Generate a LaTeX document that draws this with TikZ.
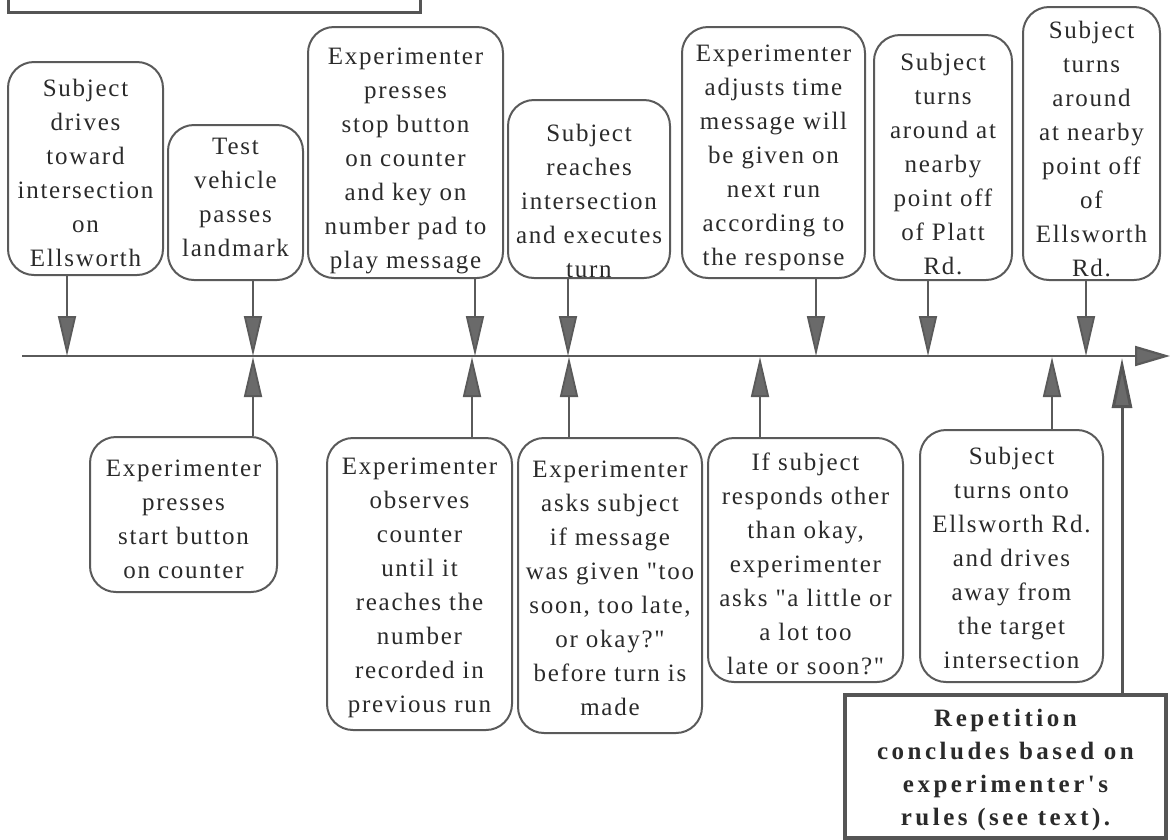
\documentclass[tikz,border=0pt]{standalone}
\usepackage{fontspec}
\setmainfont{Liberation Serif}[LetterSpace=7, Ligatures=TeXOff]
\usetikzlibrary{arrows.meta,calc}
\definecolor{bord}{HTML}{5A5A5A}
\definecolor{ink}{HTML}{2A2A2A}
\definecolor{headfill}{HTML}{6A6A6A}
\definecolor{rectbord}{HTML}{555555}
\tikzset{
  rbox/.style={draw=bord, line width=2pt, rounded corners=26pt, inner sep=0pt},
  txt/.style={font=\fontsize{25}{34}\selectfont, text=ink, align=center, inner sep=0pt},
  rtxt/.style={font=\fontsize{25}{33}\selectfont\bfseries\addfontfeatures{LetterSpace=14}, text=ink, align=center, inner sep=0pt},
  arr/.style={draw=bord, line width=1.8pt, -{Triangle[length=40pt,width=18pt,fill=headfill]}},
  bigarr/.style={draw=rectbord, line width=3pt, -{Triangle[length=50pt,width=20pt,fill=headfill]}},
  tline/.style={draw=bord, line width=2.2pt, -{Triangle[length=35pt,width=20pt,fill=headfill]}},
  sqbox/.style={draw=rectbord, line width=4.5pt, inner sep=0pt}
}
\begin{document}
\begin{tikzpicture}[x=1pt,y=-1pt]
\useasboundingbox (0,0) rectangle (1170,839);
\clip (0,0) rectangle (1170,839);

% partial box at the top
\draw[draw=rectbord, line width=3pt] (8,-60) rectangle (420,12);

% timeline
\coordinate (L0) at (22,356);
\coordinate (L1) at (1170,356);
\draw[tline] (L0) -- (L1);

% top boxes
\node[rbox, minimum width=155pt, minimum height=213pt] (T1) at (85.5,168.5) {};
\node[txt] (T1t) at (85.5,172.5) {Subject\\drives\\toward\\intersection\\on\\Ellsworth};

\node[rbox, minimum width=135pt, minimum height=155pt] (T2) at (235.5,202.5) {};
\node[txt] (T2t) at (235.5,197) {Test\\vehicle\\passes\\landmark};

\node[rbox, minimum width=195pt, minimum height=251pt] (T3) at (405.5,152.5) {};
\node[txt] (T3t) at (405.5,161) {Experimenter\\presses\\stop button\\on counter\\and key on\\number pad to\\play message};

\node[rbox, minimum width=162pt, minimum height=178pt] (T4) at (589,189) {};
\node[txt] (T4t) at (589,201) {Subject\\reaches\\intersection\\and executes\\turn};

\node[rbox, minimum width=183pt, minimum height=251pt] (T5) at (773.5,152.5) {};
\node[txt] (T5t) at (773.5,158) {Experimenter\\adjusts time\\message will\\be given on\\next run\\according to\\the response};

\node[rbox, minimum width=138pt, minimum height=245pt] (T6) at (943,157.5) {};
\node[txt] (T6t) at (943,164) {Subject\\turns\\around at\\nearby\\point off\\of Platt\\Rd.};

\node[rbox, minimum width=137pt, minimum height=273pt] (T7) at (1091.5,143.5) {};
\node[txt] (T7t) at (1091.5,149) {Subject\\turns\\around\\at nearby\\point off\\of\\Ellsworth\\Rd.};

% bottom boxes
\node[rbox, minimum width=187pt, minimum height=155pt] (B1) at (183.5,514.5) {};
\node[txt] (B1t) at (183.5,519) {Experimenter\\presses\\start button\\on counter};

\node[rbox, minimum width=185pt, minimum height=292pt] (B2) at (419.5,584) {};
\node[txt] (B2t) at (419.5,587.5) {Experimenter\\observes\\counter\\until it\\reaches the\\number\\recorded in\\previous run};

\node[rbox, minimum width=184pt, minimum height=295pt] (B3) at (610,585.5) {};
\node[txt] (B3t) at (610,588) {Experimenter\\asks subject\\if message\\was given "too\\soon, too late,\\or okay?"\\before turn is\\made};

\node[rbox, minimum width=195pt, minimum height=244pt] (B4) at (805.5,560) {};
\node[txt] (B4t) at (805.5,564) {If subject\\responds other\\than okay,\\experimenter\\asks "a little or\\a lot too\\late or soon?"};

\node[rbox, minimum width=183pt, minimum height=252pt] (B5) at (1011.5,556) {};
\node[txt] (B5t) at (1011.5,558) {Subject\\turns onto\\Ellsworth Rd.\\and drives\\away from\\the target\\intersection};

\node[sqbox, minimum width=321pt, minimum height=143pt] (R) at (1005.5,766.5) {};
\node[rtxt] (Rt) at (1005.5,770) {Repetition\\concludes based on\\experimenter's\\rules (see text).};

% arrow anchor points on the timeline
\coordinate (a1) at (67,356);
\coordinate (a2) at (253,356);
\coordinate (a3) at (475,356);
\coordinate (a4) at (568,356);
\coordinate (a5) at (816,356);
\coordinate (a6) at (928,356);
\coordinate (a7) at (1086,356);
\coordinate (b1) at (253,357);
\coordinate (b2) at (472,357);
\coordinate (b3) at (569,357);
\coordinate (b4) at (760,357);
\coordinate (b5) at (1052,357);
\coordinate (r1) at (1122,358);

\draw[arr] (T1.south -| a1) -- (a1);
\draw[arr] (T2.south -| a2) -- (a2);
\draw[arr] (T3.south -| a3) -- (a3);
\draw[arr] (T4.south -| a4) -- (a4);
\draw[arr] (T5.south -| a5) -- (a5);
\draw[arr] (T6.south -| a6) -- (a6);
\draw[arr] (T7.south -| a7) -- (a7);

\draw[arr] (B1.north -| b1) -- (b1);
\draw[arr] (B2.north -| b2) -- (b2);
\draw[arr] (B3.north -| b3) -- (b3);
\draw[arr] (B4.north -| b4) -- (b4);
\draw[arr] (B5.north -| b5) -- (b5);
\draw[bigarr] (R.north -| r1) -- (r1);
\end{tikzpicture}
\end{document}
